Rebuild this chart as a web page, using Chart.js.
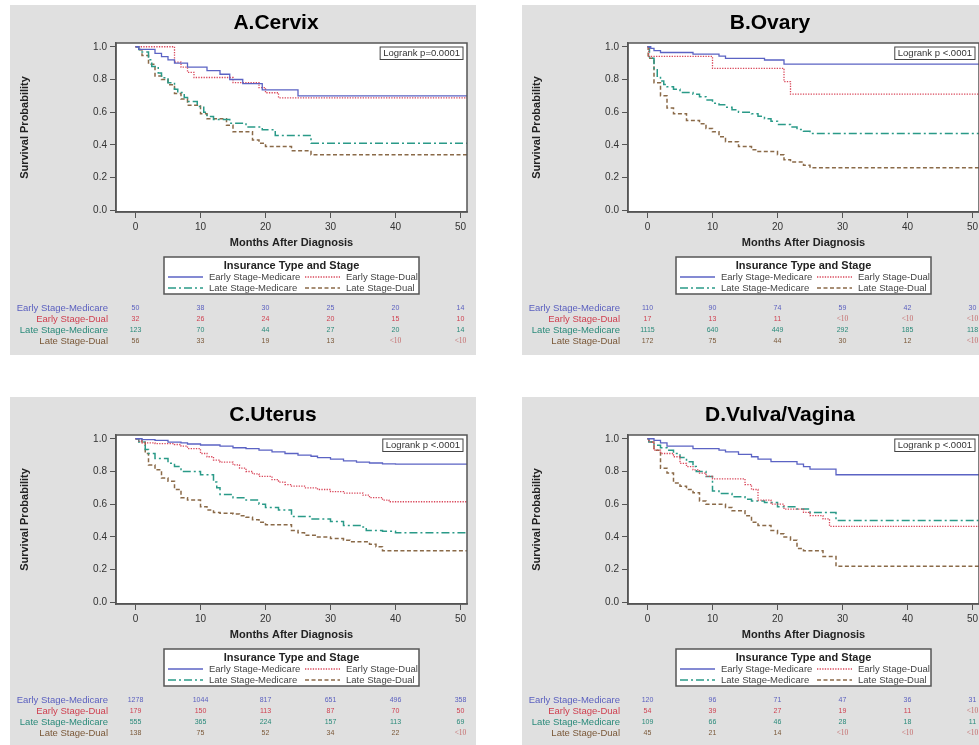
<!DOCTYPE html>
<html><head><meta charset="utf-8">
<script src="https://cdn.jsdelivr.net/npm/chart.js@4.4.1/dist/chart.umd.min.js"></script>
<style>
html,body{margin:0;padding:0;background:#fff;width:979px;height:745px;overflow:hidden;position:relative;}
.panel{position:absolute;width:466px;height:350px;background:#e0e0e0;}
canvas{display:block;}
</style></head><body>
<div class="panel" style="left:10px;top:5px"><canvas id="cA" width="466" height="350"></canvas></div>
<div class="panel" style="left:522px;top:5px"><canvas id="cB" width="466" height="350"></canvas></div>
<div class="panel" style="left:10px;top:397px"><canvas id="cC" width="466" height="350"></canvas></div>
<div class="panel" style="left:522px;top:397px"><canvas id="cD" width="466" height="350"></canvas></div>
<script>
// ---------- DATA ----------
const groupNames = ['Early Stage-Medicare', 'Early Stage-Dual', 'Late Stage-Medicare', 'Late Stage-Dual'];
const monthTicks = [0, 10, 20, 30, 40, 50];
const survTicks = [0, 0.2, 0.4, 0.6, 0.8, 1.0];
const panelTitles = ['A.Cervix', 'B.Ovary', 'C.Uterus', 'D.Vulva/Vagina'];
const logrankTexts = ['Logrank p=0.0001', 'Logrank p <.0001', 'Logrank p <.0001', 'Logrank p <.0001'];

// Kaplan-Meier curves: [month, survival probability]
const cervixEarlyMedicare = [[0,1],[0.5,0.984],[3,0.96],[4,0.94],[5,0.92],[6,0.90],[8,0.875],[11,0.854],[13,0.832],[14.5,0.80],[16.5,0.775],[19.5,0.736],[25,0.70],[51,0.70]];
const cervixEarlyDual = [[0,1],[6,0.906],[7,0.875],[8,0.844],[9,0.812],[15,0.781],[19,0.75],[20,0.719],[22,0.688],[51,0.688]];
const cervixLateMedicare = [[0,1],[0.5,0.984],[1,0.968],[2,0.92],[2.5,0.88],[3.5,0.84],[4,0.81],[5,0.78],[6,0.74],[6.5,0.72],[7.5,0.69],[8,0.665],[9.5,0.635],[10.5,0.60],[11,0.574],[12,0.555],[14.5,0.533],[17,0.51],[19.5,0.493],[21.5,0.458],[27,0.41],[51,0.41]];
const cervixLateDual = [[0,1],[0.5,0.982],[1,0.946],[2,0.893],[3,0.821],[4,0.80],[5,0.768],[6,0.714],[7,0.68],[8,0.643],[10,0.59],[11,0.56],[14,0.52],[15,0.48],[18,0.43],[19,0.41],[20,0.39],[24,0.365],[27,0.34],[51,0.34]];

const ovaryEarlyMedicare = [[0,1],[0.5,0.99],[1,0.976],[2,0.965],[7,0.955],[11,0.943],[12,0.929],[18,0.919],[21,0.894],[51,0.894]];
const ovaryEarlyDual = [[0,1],[0.2,0.941],[10,0.868],[21,0.787],[22,0.71],[51,0.71]];
const ovaryLateMedicare = [[0,1],[0.3,0.93],[1,0.86],[1.5,0.82],[2,0.79],[2.5,0.77],[3,0.755],[4,0.74],[5,0.72],[7,0.71],[8,0.695],[9,0.675],[10,0.655],[11,0.645],[12,0.63],[13,0.615],[14,0.60],[16,0.59],[17,0.575],[18,0.56],[19,0.545],[20,0.525],[22,0.51],[23,0.495],[24,0.483],[25,0.47],[51,0.47]];
const ovaryLateDual = [[0,1],[0.1,0.93],[1,0.78],[2,0.70],[3,0.625],[4,0.59],[6,0.55],[8,0.53],[9,0.50],[10,0.48],[11,0.45],[12,0.42],[14,0.39],[16,0.37],[17,0.36],[20,0.34],[21,0.31],[22,0.295],[24,0.275],[25,0.26],[51,0.26]];

const uterusEarlyMedicare = [[0,1],[1,0.995],[3,0.99],[5,0.98],[7,0.975],[8,0.968],[10,0.962],[13,0.955],[15,0.945],[17,0.94],[19,0.93],[21,0.92],[23,0.91],[25,0.90],[27,0.893],[28,0.885],[30,0.875],[32,0.865],[34,0.857],[36,0.852],[38,0.847],[40,0.845],[51,0.845]];
const uterusEarlyDual = [[0,1],[0.5,0.985],[1,0.975],[3,0.97],[6,0.965],[7,0.955],[8,0.94],[10,0.91],[11,0.89],[12,0.87],[13,0.857],[15,0.84],[16,0.82],[17,0.80],[18,0.785],[19,0.77],[21,0.75],[22,0.735],[23,0.72],[24,0.71],[26,0.70],[28,0.69],[30,0.677],[32,0.668],[35,0.655],[36,0.64],[38,0.625],[39,0.615],[51,0.615]];
const uterusLateMedicare = [[0,1],[0.5,0.98],[1.5,0.935],[2,0.91],[3,0.88],[5,0.85],[6,0.83],[7,0.80],[10,0.78],[12,0.735],[12.5,0.70],[13,0.66],[15,0.64],[17,0.625],[19,0.60],[20,0.58],[22,0.565],[24,0.525],[27,0.51],[30,0.495],[32,0.47],[35,0.46],[35.5,0.44],[38,0.435],[40,0.425],[51,0.425]];
const uterusLateDual = [[0,1],[1,0.98],[1.5,0.91],[2,0.84],[3,0.81],[4,0.76],[5,0.74],[6,0.69],[7,0.64],[8,0.625],[10,0.585],[11,0.565],[12,0.55],[13,0.545],[15,0.54],[16,0.53],[17,0.52],[18,0.505],[19,0.49],[20,0.475],[24,0.44],[25,0.425],[26,0.41],[28,0.40],[30,0.39],[32,0.38],[33,0.37],[36,0.355],[37,0.34],[38,0.315],[51,0.315]];

const vulvaEarlyMedicare = [[0,1],[1,0.99],[2,0.975],[3,0.955],[7,0.94],[11,0.93],[12,0.92],[14,0.905],[16,0.89],[17,0.875],[19,0.86],[23,0.845],[24,0.83],[25,0.815],[29,0.78],[51,0.78]];
const vulvaEarlyDual = [[0,1],[0.2,0.98],[1,0.93],[2,0.91],[4,0.89],[5,0.85],[6,0.83],[7,0.81],[8,0.79],[9,0.77],[10,0.755],[15,0.72],[16,0.69],[17,0.625],[19,0.60],[21,0.57],[24,0.55],[25,0.53],[27,0.51],[28,0.465],[51,0.465]];
const vulvaLateMedicare = [[0,1],[0.2,0.98],[1,0.96],[2,0.945],[3,0.93],[4,0.91],[5,0.885],[6,0.86],[7,0.83],[7.5,0.80],[9,0.77],[10,0.68],[11,0.665],[13,0.645],[15,0.63],[16,0.62],[18,0.61],[20,0.585],[23,0.57],[25,0.55],[29,0.50],[51,0.50]];
const vulvaLateDual = [[0,1],[0.2,0.98],[1,0.93],[2,0.82],[3,0.79],[4,0.73],[5,0.71],[6,0.69],[7,0.67],[8,0.62],[9,0.60],[12,0.58],[13,0.56],[15,0.53],[16,0.49],[17,0.47],[19,0.44],[20,0.42],[21,0.40],[22,0.38],[23,0.33],[24,0.315],[27,0.28],[29,0.22],[51,0.22]];

// Numbers at risk (columns = monthTicks)
const cervixRisk = [['50','38','30','25','20','14'],['32','26','24','20','15','10'],['123','70','44','27','20','14'],['56','33','19','13','<10','<10']];
const ovaryRisk = [['110','90','74','59','42','30'],['17','13','11','<10','<10','<10'],['1115','640','449','292','185','118'],['172','75','44','30','12','<10']];
const uterusRisk = [['1278','1044','817','651','496','358'],['179','150','113','87','70','50'],['555','365','224','157','113','69'],['138','75','52','34','22','<10']];
const vulvaRisk = [['120','96','71','47','36','31'],['54','39','27','19','11','<10'],['109','66','46','28','18','11'],['45','21','14','<10','<10','<10']];

// ---------- STYLE ----------
const FAM = "'Liberation Sans', Arial, sans-serif";
Chart.defaults.font.family = FAM;
const lineColors = ['#5b63c4', '#d9475a', '#2a9a88', '#8a6a48'];
const textColors = ['#5a5fbf', '#cf3f4f', '#2a8a7a', '#7a5838'];
const lineDashes = [[], [1.3, 1.3], [8, 3, 2, 3], [4, 2.5]];
const lineWidths = [1.3, 1.3, 1.5, 1.5];
const titleXs = [266, 248, 263, 258];

const panelDecor = {
  id: 'panelDecor',
  beforeDraw(chart) {
    const a = chart.chartArea, ctx = chart.ctx;
    ctx.save(); ctx.fillStyle = '#fff';
    ctx.fillRect(a.left, a.top, a.right - a.left, a.bottom - a.top);
    ctx.restore();
  },
  afterDraw(chart, args, o) {
    const a = chart.chartArea, ctx = chart.ctx, xs = chart.scales.x;
    ctx.save();
    // frame
    ctx.strokeStyle = '#555'; ctx.lineWidth = 1.5; ctx.setLineDash([]);
    ctx.strokeRect(a.left, a.top, a.right - a.left, a.bottom - a.top);
    // title
    ctx.fillStyle = '#000'; ctx.font = 'bold 21px ' + FAM;
    ctx.textAlign = 'center'; ctx.textBaseline = 'middle';
    ctx.fillText(o.title, o.titleX, 18);
    // logrank box
    ctx.font = '9.5px ' + FAM;
    const lw = ctx.measureText(o.logrank).width;
    const bx = a.right - 4 - lw - 6, by = a.top + 4;
    ctx.fillStyle = '#fff'; ctx.fillRect(bx, by, lw + 6, 12.5);
    ctx.strokeStyle = '#444'; ctx.lineWidth = 1; ctx.strokeRect(bx, by, lw + 6, 12.5);
    ctx.fillStyle = '#333'; ctx.textAlign = 'left';
    ctx.fillText(o.logrank, bx + 3, by + 6.5);
    // legend box
    const cx = (a.left + a.right) / 2, L = cx - 127.5, T = 252;
    ctx.fillStyle = '#fff'; ctx.fillRect(L, T, 255, 37);
    ctx.strokeStyle = '#555'; ctx.lineWidth = 1.5; ctx.strokeRect(L, T, 255, 37);
    ctx.fillStyle = '#222'; ctx.font = 'bold 11px ' + FAM; ctx.textAlign = 'center';
    ctx.fillText('Insurance Type and Stage', cx, T + 8.5);
    const pos = [[4, 20], [141, 20], [4, 31], [141, 31]];
    ctx.font = '9.5px ' + FAM; ctx.textAlign = 'left';
    for (let i = 0; i < 4; i++) {
      const [px, py] = pos[i];
      ctx.strokeStyle = lineColors[i]; ctx.lineWidth = lineWidths[i];
      ctx.setLineDash(lineDashes[i]);
      ctx.beginPath(); ctx.moveTo(L + px, T + py); ctx.lineTo(L + px + 35, T + py); ctx.stroke();
      ctx.setLineDash([]);
      ctx.fillStyle = '#444';
      ctx.fillText(groupNames[i], L + px + 41, T + py + 0.5);
    }
    // risk table
    const rowY = [303, 314, 325, 336];
    for (let i = 0; i < 4; i++) {
      ctx.font = '9.5px ' + FAM; ctx.textAlign = 'right'; ctx.fillStyle = textColors[i];
      ctx.fillText(groupNames[i], 98, rowY[i]);
      ctx.textAlign = 'center';
      o.risk[i].forEach((v, j) => {
        const x = xs.getPixelForValue(monthTicks[j]);
        if (v === '<10') { ctx.font = "7.5px 'Liberation Serif', serif"; ctx.fillStyle = '#c46c6c'; }
        else { ctx.font = '7px ' + FAM; ctx.fillStyle = textColors[i]; }
        ctx.fillText(v, x, rowY[i]);
      });
    }
    ctx.restore();
  }
};

function makePanel(id, idx, series, risk) {
  new Chart(document.getElementById(id), {
    type: 'line',
    data: {
      datasets: series.map((s, i) => ({
        label: groupNames[i],
        data: s.map(p => ({ x: p[0], y: p[1] })),
        borderColor: lineColors[i], borderDash: lineDashes[i], borderWidth: lineWidths[i],
        pointRadius: 0, stepped: true, fill: false, tension: 0
      }))
    },
    options: {
      responsive: false, animation: false, devicePixelRatio: 1,
      layout: { padding: { left: 0, top: 38, right: 9, bottom: 98 } },
      plugins: {
        legend: { display: false }, tooltip: { enabled: false }, title: { display: false },
        panelDecor: { title: panelTitles[idx], titleX: titleXs[idx], logrank: logrankTexts[idx], risk: risk }
      },
      scales: {
        x: {
          type: 'linear', min: -3, max: 51,
          afterBuildTicks: s => { s.ticks = monthTicks.map(v => ({ value: v })); },
          afterFit: s => { s.height = 45; },
          grid: { drawOnChartArea: false, drawTicks: true, tickLength: 6, color: '#555', lineWidth: 1 },
          border: { display: true, color: '#555', width: 1.5 },
          ticks: { padding: 3, color: '#333', font: { size: 10 }, maxRotation: 0, autoSkip: false, callback: v => String(v) },
          title: { display: true, text: 'Months After Diagnosis', color: '#222', font: { size: 11, weight: 'bold' }, padding: { top: 0, bottom: 7 } }
        },
        y: {
          type: 'linear', min: -0.01, max: 1.023,
          afterBuildTicks: s => { s.ticks = survTicks.map(v => ({ value: v })); },
          afterFit: s => { s.width = 106; },
          grid: { drawOnChartArea: false, drawTicks: true, tickLength: 6, color: '#555', lineWidth: 1 },
          border: { display: true, color: '#555', width: 1.5 },
          ticks: { padding: 3, color: '#333', font: { size: 10 }, callback: v => Number(v).toFixed(1) },
          title: { display: true, text: 'Survival Probability', color: '#222', font: { size: 11, weight: 'bold' }, padding: { top: 8, bottom: 0 } }
        }
      }
    },
    plugins: [panelDecor]
  });
}

makePanel('cA', 0, [cervixEarlyMedicare, cervixEarlyDual, cervixLateMedicare, cervixLateDual], cervixRisk);
makePanel('cB', 1, [ovaryEarlyMedicare, ovaryEarlyDual, ovaryLateMedicare, ovaryLateDual], ovaryRisk);
makePanel('cC', 2, [uterusEarlyMedicare, uterusEarlyDual, uterusLateMedicare, uterusLateDual], uterusRisk);
makePanel('cD', 3, [vulvaEarlyMedicare, vulvaEarlyDual, vulvaLateMedicare, vulvaLateDual], vulvaRisk);
</script>
</body></html>
